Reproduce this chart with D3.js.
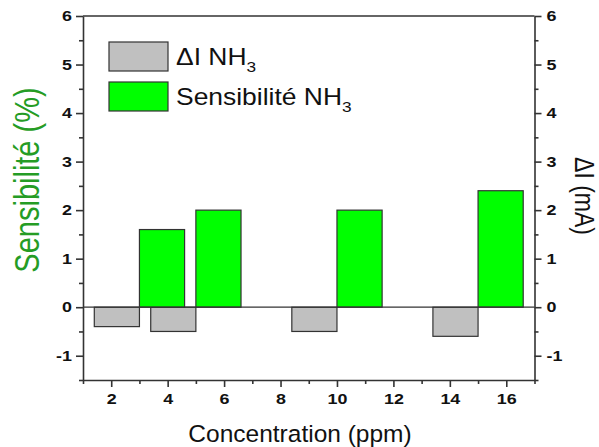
<!DOCTYPE html>
<html><head><meta charset="utf-8">
<script src="https://cdn.jsdelivr.net/npm/d3@7"></script>
<style>body{margin:0;background:#fff}svg{display:block}text{font-family:Arial,"Liberation Sans",sans-serif}</style>
</head><body><div id="c"></div>
<script>
// Data
const concentrations = [3, 5, 10, 15];
const deltaI = [-0.4, -0.5, -0.5, -0.6];          // ΔI NH3 (mA)
const sensibilite = [1.6, 2.0, 2.0, 2.4];          // Sensibilité NH3 (%)
const xTicks = [2, 4, 6, 8, 10, 12, 14, 16];
const yTicks = [-1, 0, 1, 2, 3, 4, 5, 6];
const seriesNames = ["ΔI NH", "Sensibilité NH"];
const barWidthUnits = 1.6;

const W = 599, H = 447;
const svg = d3.select("#c").append("svg").attr("width", W).attr("height", H);
const x = d3.scaleLinear().domain([1, 17]).range([83, 534.5]);
const yL = d3.scaleLinear().domain([-1.5, 6]).range([380, 16]);
const yR = d3.scaleLinear().domain([-1.5, 6]).range([380, 16]);

const stroke = "#333";
// bars
const bw = x(1 + barWidthUnits) - x(1);
svg.append("g").selectAll("rect").data(concentrations).join("rect")
  .attr("x", d => x(d - barWidthUnits)).attr("width", bw)
  .attr("y", (d, i) => yR(Math.max(0, deltaI[i])))
  .attr("height", (d, i) => Math.abs(yR(deltaI[i]) - yR(0)))
  .attr("fill", "#c0c0c0").attr("stroke", stroke).attr("stroke-width", 1.2);
svg.append("g").selectAll("rect").data(concentrations).join("rect")
  .attr("x", d => x(d)).attr("width", bw)
  .attr("y", (d, i) => yL(sensibilite[i]))
  .attr("height", (d, i) => yL(0) - yL(sensibilite[i]))
  .attr("fill", "#00ff00").attr("stroke", stroke).attr("stroke-width", 1.2);

// zero line
svg.append("line").attr("x1", x(1)).attr("x2", x(17)).attr("y1", yL(0)).attr("y2", yL(0))
  .attr("stroke", stroke).attr("stroke-width", 1.2);

const fmt = d => String(d);  // plain hyphen minus like the original
function styleAxis(g) {
  g.selectAll("path,line").attr("stroke", stroke).attr("stroke-width", 1.6);
  g.selectAll("text").attr("font-size", 14).attr("font-weight", "bold").attr("fill", "#111")
    .each(function () {
      const t = d3.select(this);
      const tx = +t.attr("x") || 0;
      t.attr("transform", `translate(${tx},0) scale(1.28,1) translate(${-tx},0)`);
    });
}
const minorY = d3.range(-1.5, 6.01, 0.5).filter(v => !Number.isInteger(v));
const minorX = d3.range(1, 17.01, 1).filter(v => v % 2 === 1);
const minorStyle = g => { g.select(".domain").remove(); g.selectAll("line").attr("stroke", stroke).attr("stroke-width", 1.6); };

// left axis
const gl = svg.append("g").attr("transform", `translate(${x(1)},0)`)
  .call(d3.axisLeft(yL).tickValues(yTicks).tickSize(7).tickSizeOuter(0).tickPadding(4).tickFormat(fmt));
styleAxis(gl);
svg.append("g").attr("transform", `translate(${x(1)},0)`)
  .call(d3.axisLeft(yL).tickValues(minorY).tickSize(4).tickSizeOuter(0).tickFormat("")).call(minorStyle);
// right axis
const gr = svg.append("g").attr("transform", `translate(${x(17)},0)`)
  .call(d3.axisRight(yR).tickValues(yTicks).tickSize(7).tickSizeOuter(0).tickPadding(5).tickFormat(fmt));
styleAxis(gr);
svg.append("g").attr("transform", `translate(${x(17)},0)`)
  .call(d3.axisRight(yR).tickValues(minorY).tickSize(4).tickSizeOuter(0).tickFormat("")).call(minorStyle);
// bottom axis
const gb = svg.append("g").attr("transform", `translate(0,${yL(-1.5)})`)
  .call(d3.axisBottom(x).tickValues(xTicks).tickSize(7).tickSizeOuter(0).tickPadding(7).tickFormat(fmt));
styleAxis(gb);
svg.append("g").attr("transform", `translate(0,${yL(-1.5)})`)
  .call(d3.axisBottom(x).tickValues(minorX).tickSize(4).tickSizeOuter(0).tickFormat("")).call(minorStyle);
// top line
svg.append("line").attr("x1", x(1)).attr("x2", x(17)).attr("y1", yL(6)).attr("y2", yL(6))
  .attr("stroke", stroke).attr("stroke-width", 1.6);

// axis titles
svg.append("text").attr("transform", `translate(300,442)`).attr("text-anchor", "middle")
  .attr("font-size", 24.5).attr("fill", "#111").text("Concentration (ppm)");
svg.append("text").attr("transform", "translate(39,180) rotate(-90) scale(1,1.2)").attr("text-anchor", "middle")
  .attr("font-size", 29).attr("fill", "#259c25").text("Sensibilité (%)");
svg.append("text").attr("transform", "translate(575,196) rotate(90) scale(1,1.2)").attr("text-anchor", "middle")
  .attr("font-size", 23).attr("fill", "#111").text("ΔI (mA)");

// legend
const legColors = ["#c0c0c0", "#00ff00"];
const lg = svg.append("g");
seriesNames.forEach((n, i) => {
  const yy = 42 + i * 40;
  lg.append("rect").attr("x", 109).attr("y", yy).attr("width", 59).attr("height", 29)
    .attr("fill", legColors[i]).attr("stroke", stroke).attr("stroke-width", 1.2);
  const t = lg.append("text").attr("transform", `translate(176,${yy + 23}) scale(1.15,1)`)
    .attr("font-size", 23).attr("fill", "#111");
  t.append("tspan").text(n);
  t.append("tspan").attr("dy", 7).attr("font-size", 15).text("3");
});
</script></body></html>
